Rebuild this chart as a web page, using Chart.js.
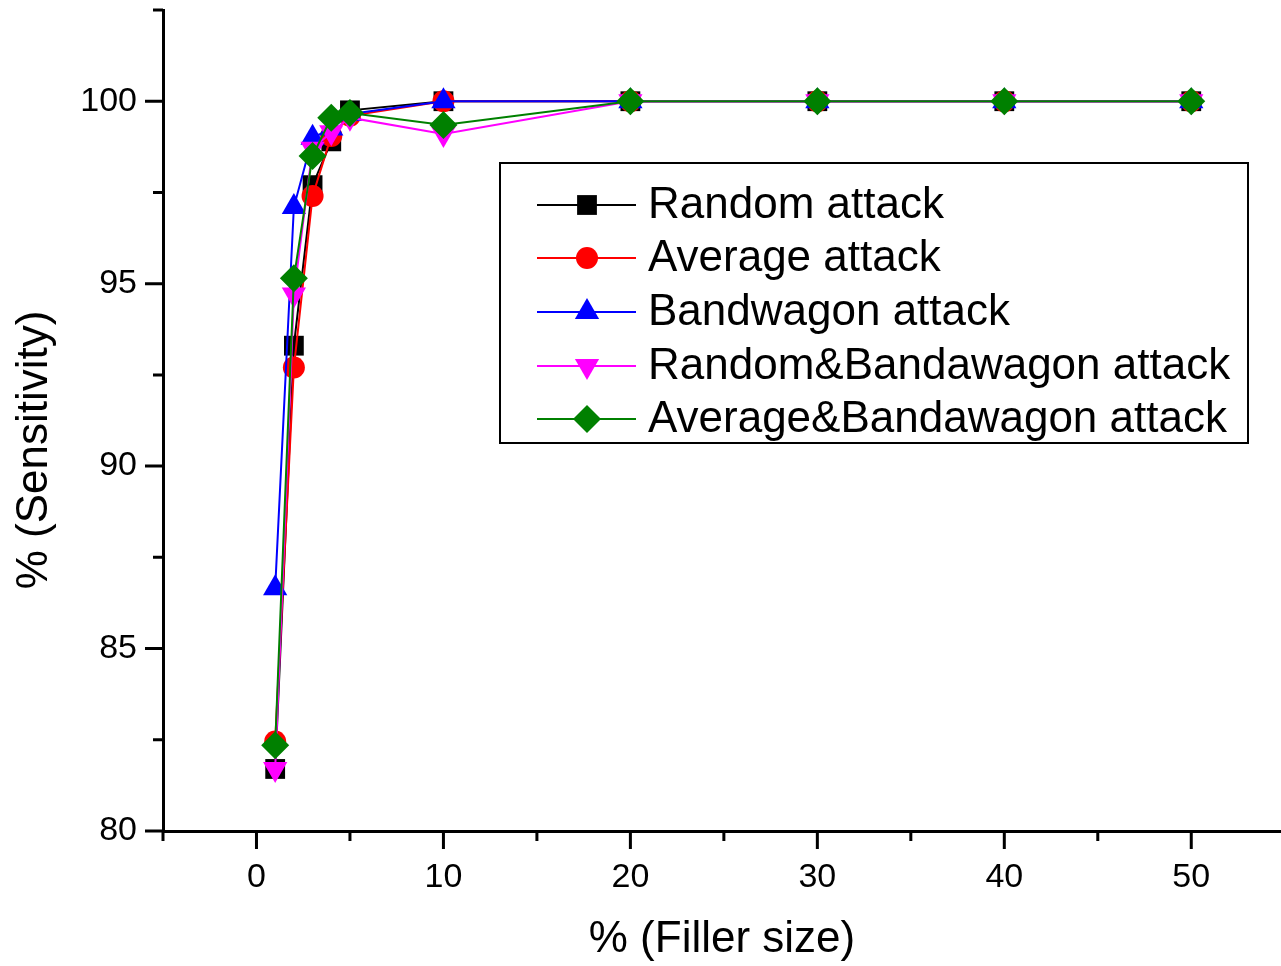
<!DOCTYPE html>
<html>
<head>
<meta charset="utf-8">
<script src="https://cdn.jsdelivr.net/npm/chart.js@4/dist/chart.umd.min.js"></script>
<style>
  body { margin: 0; background: #fff; }
  #wrap { width: 1281px; height: 966px; }
</style>
</head>
<body>
<div id="wrap"><canvas id="grafica" width="1281" height="966"></canvas></div>
<script>
  // filler size (%) on x, sensitivity (%) on y
  const fillerSize = [1, 2, 3, 4, 5, 10, 20, 30, 40, 50];
  const randomAttack = [81.7, 93.3, 97.7, 98.9, 99.75, 100, 100, 100, 100, 100];
  const averageAttack = [82.45, 92.7, 97.4, 99.05, 99.6, 100, 100, 100, 100, 100];
  const bandwagonAttack = [86.65, 97.1, 99.0, 99.25, 99.65, 100, 100, 100, 100, 100];
  const randomBandAttack = [81.7, 94.7, 98.7, 99.15, 99.55, 99.1, 100, 100, 100, 100];
  const averageBandAttack = [82.35, 95.15, 98.5, 99.55, 99.68, 99.35, 100, 100, 100, 100];

  const xMajor = [0, 10, 20, 30, 40, 50];
  const xMinor = [-5, 5, 15, 25, 35, 45];
  const yMajor = [80, 85, 90, 95, 100];
  const yMinor = [82.5, 87.5, 92.5, 97.5, 102.5];

  const FONT = "'Liberation Sans', Arial, sans-serif";

  const toPoints = (ys) => fillerSize.map((x, i) => ({ x: x, y: ys[i] }));

  const series = [
    { label: 'Random attack', data: randomAttack, color: '#000000', style: 'rect', radius: 14, rot: 0 },
    { label: 'Average attack', data: averageAttack, color: '#ff0000', style: 'circle', radius: 11, rot: 0 },
    { label: 'Bandwagon attack', data: bandwagonAttack, color: '#0000ff', style: 'triangle', radius: 14, rot: 0 },
    { label: 'Random&Bandawagon attack', data: randomBandAttack, color: '#ff00ff', style: 'triangle', radius: 14, rot: 180 },
    { label: 'Average&Bandawagon attack', data: averageBandAttack, color: '#008000', style: 'rectRot', radius: 14, rot: 0 },
  ];

  const noPad = (scale) => {
    scale.paddingTop = 0; scale.paddingBottom = 0;
    scale.paddingLeft = 0; scale.paddingRight = 0;
  };

  // ticks (major + minor), y title and the boxed legend
  const decorPlugin = {
    id: 'decor',
    afterDraw(chart) {
      const ctx = chart.ctx;
      const xs = chart.scales.x, ys = chart.scales.y;
      const area = chart.chartArea;
      ctx.save();
      ctx.strokeStyle = '#000';
      ctx.lineWidth = 3;
      ctx.beginPath();
      xMajor.forEach(v => { const p = xs.getPixelForValue(v); ctx.moveTo(p, area.bottom); ctx.lineTo(p, area.bottom + 18); });
      xMinor.forEach(v => { const p = xs.getPixelForValue(v); ctx.moveTo(p, area.bottom); ctx.lineTo(p, area.bottom + 10); });
      yMajor.forEach(v => { const p = ys.getPixelForValue(v); ctx.moveTo(area.left, p); ctx.lineTo(area.left - 18, p); });
      yMinor.forEach(v => { const p = ys.getPixelForValue(v); ctx.moveTo(area.left, p); ctx.lineTo(area.left - 10, p); });
      ctx.stroke();

      // y axis title
      ctx.fillStyle = '#000';
      ctx.font = '44px ' + FONT;
      ctx.textAlign = 'center';
      ctx.textBaseline = 'middle';
      ctx.translate(35, 450);
      ctx.rotate(-Math.PI / 2);
      ctx.fillText('% (Sensitivity)', 0, 0);
      ctx.restore();

      // legend
      ctx.save();
      ctx.strokeStyle = '#000';
      ctx.lineWidth = 2;
      ctx.strokeRect(500, 163, 748, 280);
      const rows = [205, 258, 312, 366, 419];
      chart.data.datasets.forEach((ds, i) => {
        const y = rows[i];
        ctx.strokeStyle = ds.borderColor;
        ctx.lineWidth = 2;
        ctx.beginPath();
        ctx.moveTo(537, y);
        ctx.lineTo(636, y);
        ctx.stroke();
        ctx.fillStyle = ds.backgroundColor;
        Chart.helpers.drawPoint(ctx, {
          pointStyle: ds.pointStyle, rotation: ds.pointRotation, radius: ds.pointRadius, borderWidth: 0
        }, 587, y);
        ctx.fillStyle = '#000';
        ctx.font = '44px ' + FONT;
        ctx.textAlign = 'left';
        ctx.textBaseline = 'middle';
        ctx.fillText(ds.label, 648, y + 1);
      });
      ctx.restore();
    }
  };

  const graph = document.getElementById('grafica');
  const myChart = new Chart(graph, {
    type: 'scatter',
    data: {
      // later series are painted on top, as in the original
      datasets: series.map((s, i) => ({
        label: s.label,
        data: toPoints(s.data),
        order: series.length - i,
        showLine: true,
        borderColor: s.color,
        backgroundColor: s.color,
        borderWidth: 2,
        pointStyle: s.style,
        pointRotation: s.rot,
        pointRadius: s.radius,
        pointBorderWidth: 0,
        pointHoverRadius: s.radius,
        clip: false,
      })),
    },
    options: {
      responsive: false,
      animation: false,
      layout: { autoPadding: false, padding: { top: 10, right: 0, left: 0, bottom: 0 } },
      plugins: {
        legend: { display: false },
        tooltip: { enabled: false },
      },
      scales: {
        x: {
          type: 'linear',
          min: -5,
          max: 54.8,
          afterBuildTicks: (scale) => { scale.ticks = xMajor.map(v => ({ value: v })); },
          afterFit: (scale) => { scale.height = 135; noPad(scale); },
          grid: { display: false, drawTicks: false },
          border: { display: true, color: '#000', width: 3 },
          ticks: { color: '#000', font: { family: FONT, size: 34 }, padding: 26, maxRotation: 0 },
          title: { display: true, text: '% (Filler size)', color: '#000', font: { family: FONT, size: 44 }, padding: { top: 0, bottom: 0 } },
        },
        y: {
          type: 'linear',
          min: 80,
          max: 102.5,
          afterBuildTicks: (scale) => { scale.ticks = yMajor.map(v => ({ value: v })); },
          afterFit: (scale) => { scale.width = 163; noPad(scale); },
          grid: { display: false, drawTicks: false },
          border: { display: true, color: '#000', width: 3 },
          ticks: { color: '#000', font: { family: FONT, size: 34 }, padding: 26 },
        },
      },
    },
    plugins: [decorPlugin],
  });
</script>
</body>
</html>
